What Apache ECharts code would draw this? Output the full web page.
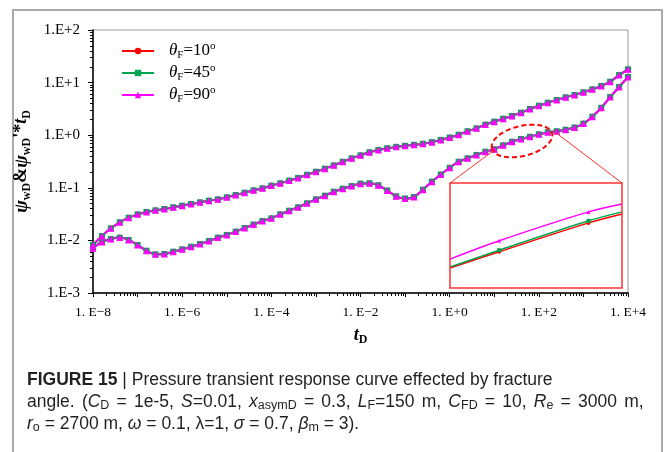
<!DOCTYPE html>
<html>
<head>
<meta charset="utf-8">
<script src="https://cdn.jsdelivr.net/npm/echarts@6/dist/echarts.min.js"></script>
<style>
  html, body { margin: 0; padding: 0; background: #fff; }
  #chart { width: 666px; height: 452px; }
</style>
</head>
<body>
<div id="chart"></div>
<script>
// log10(tD) of every marker
const tExp = [-8, -7.8, -7.6, -7.4, -7.2, -7, -6.8, -6.6, -6.4, -6.2,
  -6, -5.8, -5.6, -5.4, -5.2, -5, -4.8, -4.6, -4.4, -4.2,
  -4, -3.8, -3.6, -3.4, -3.2, -3, -2.8, -2.6, -2.4, -2.2,
  -2, -1.8, -1.6, -1.4, -1.2, -1, -0.8, -0.6, -0.4, -0.2,
  0, 0.2, 0.4, 0.6, 0.8, 1, 1.2, 1.4, 1.6, 1.8,
  2, 2.2, 2.4, 2.6, 2.8, 3, 3.2, 3.4, 3.6, 3.8, 4];

// psi_wD (upper curve)
const pressure = [0.00818, 0.0121, 0.0170, 0.0221, 0.0270, 0.0313, 0.0347, 0.0373, 0.0395, 0.0426,
  0.0457, 0.0492, 0.0530, 0.0569, 0.0604, 0.0659, 0.0730, 0.0807, 0.0895, 0.0977,
  0.110, 0.122, 0.137, 0.154, 0.177, 0.202, 0.231, 0.267, 0.313, 0.363,
  0.415, 0.473, 0.525, 0.565, 0.600, 0.628, 0.655, 0.687, 0.738, 0.813,
  0.906, 1.02, 1.19, 1.35, 1.59, 1.81, 2.06, 2.32, 2.68, 3.15,
  3.64, 4.15, 4.67, 5.26, 5.81, 6.55, 7.46, 8.61, 10.4, 13.9, 17.9];

// psi_wD' * tD (lower curve)
const derivative = [0.00708, 0.00933, 0.0106, 0.0113, 0.0102, 0.00818, 0.00637, 0.00543, 0.00551, 0.00610,
  0.00676, 0.00759, 0.00855, 0.00975, 0.0113, 0.0127, 0.0147, 0.0172, 0.0200, 0.0234,
  0.0263, 0.0313, 0.0367, 0.0426, 0.0507, 0.0604, 0.0708, 0.0843, 0.0962, 0.108,
  0.120, 0.122, 0.112, 0.0889, 0.0689, 0.0627, 0.0668, 0.0920, 0.131, 0.179,
  0.240, 0.313, 0.364, 0.421, 0.485, 0.540, 0.643, 0.752, 0.847, 0.935,
  1.04, 1.14, 1.19, 1.27, 1.40, 1.66, 2.25, 3.32, 5.32, 8.24, 12.8];

const thetaF = ['10', '45', '90'];
const colors = ['#ff0000', '#00a550', '#ff00ff'];
const symbols = ['circle', 'rect', 'triangle'];
const symbolSizes = [5, 6, 7];

const xLabelExp = [-8, -6, -4, -2, 0, 2, 4];

// zoomed window (inset)
const insetExp = [1.29, 1.4, 1.6, 1.675];
const insetMarked = [false, true, true, false];
const insetValues = [
  [0.638, 0.669, 0.724, 0.741],
  [0.640, 0.672, 0.728, 0.745],
  [0.655, 0.690, 0.745, 0.760]
];

const myChart = echarts.init(document.getElementById('chart'));

const range = (a, b) => { const r = []; for (let i = a; i <= b; i++) r.push(i); return r; };
const minorTicks = (a, b) => {
  const r = [];
  for (let d = a; d < b; d++) for (let k = 2; k <= 9; k++) r.push(d + Math.log10(k));
  return r;
};
const expLabel = (v, sp, minus) => {
  const n = Math.round(v);
  return '1.' + sp + 'E' + (n < 0 ? minus : '+') + Math.abs(n);
};

const serif = 'Liberation Serif';
const sans = 'Liberation Sans';

const series = [];
thetaF.forEach((name, k) => {
  [pressure, derivative].forEach(vals => {
    series.push({
      name: name,
      type: 'line',
      xAxisIndex: 0,
      yAxisIndex: 0,
      data: tExp.map((t, i) => [t, Math.log10(vals[i])]),
      symbol: symbols[k],
      symbolSize: symbolSizes[k],
      smooth: 0.3,
      lineStyle: { color: colors[k], width: 2 },
      itemStyle: { color: colors[k] },
      animation: false
    });
  });
});
thetaF.forEach((name, k) => {
  series.push({
    name: 'inset' + name,
    type: 'line',
    xAxisIndex: 2,
    yAxisIndex: 2,
    data: insetExp.map((t, i) => ({
      value: [t, insetValues[k][i]],
      symbol: insetMarked[i] ? symbols[k] : 'none'
    })),
    symbolSize: 4,
    smooth: 0.3,
    lineStyle: { color: colors[k], width: 1.5 },
    itemStyle: { color: colors[k] },
    animation: false
  });
});

const legendRich = {
  th: { fontFamily: serif, fontStyle: 'italic', fontSize: 17, lineHeight: 20, verticalAlign: 'middle', padding: [0, 0, 0, 10] },
  sub: { fontFamily: serif, fontSize: 11, lineHeight: 11, verticalAlign: 'bottom' },
  eq: { fontFamily: serif, fontSize: 17, lineHeight: 20, verticalAlign: 'middle' },
  sup: { fontFamily: serif, fontSize: 11, lineHeight: 11, verticalAlign: 'top' }
};

const capRich = {
  b: { fontFamily: sans, fontSize: 17.5, fontWeight: 'bold', fill: '#231f20', lineHeight: 20, verticalAlign: 'middle' },
  i: { fontFamily: sans, fontSize: 17.5, fontStyle: 'italic', fill: '#231f20', lineHeight: 20, verticalAlign: 'middle' },
  s: { fontFamily: sans, fontSize: 12.5, fill: '#231f20', lineHeight: 12, verticalAlign: 'bottom' },
  // wider space, the second caption line is justified
  w: { fontFamily: sans, fontSize: 17.5, width: 7.2, lineHeight: 20, verticalAlign: 'middle' }
};
const capText = (y, text) => ({
  type: 'text', x: 27, y: y, z: 10,
  style: {
    text: text, fontFamily: sans, fontSize: 17.5, fill: '#231f20',
    verticalAlign: 'middle', lineHeight: 20, rich: capRich
  }
});
const line2 = 'angle. ({i|C}{s|D} = 1e-5, {i|S}=0.01, {i|x}{s|asymD} = 0.3, {i|L}{s|F}=150 m, {i|C}{s|FD} = 10, {i|R}{s|e} = 3000 m,'
  .split(' ').join('{w| }');

const option = {
  backgroundColor: '#fff',
  animation: false,
  legend: {
    data: thetaF,
    orient: 'vertical',
    left: 121,
    top: 41,
    padding: 0,
    itemWidth: 32,
    itemHeight: 8,
    itemGap: 2,
    formatter: name => '{th|θ}{sub|F}{eq|=' + name + '}{sup|o}',
    textStyle: { color: '#000', rich: legendRich }
  },
  grid: [
    { left: 93, right: 38, top: 30, bottom: 159, show: true, borderColor: '#999', borderWidth: 1 },
    { left: 450, top: 183, width: 172, height: 105, show: true, borderColor: '#ff3030', borderWidth: 1.5, z: 5 }
  ],
  xAxis: [
    {
      type: 'value', gridIndex: 0, min: -8, max: 4, position: 'bottom',
      axisLine: { onZero: false, lineStyle: { color: '#000', width: 1.5 } },
      axisTick: { customValues: range(-8, 4), length: 4, lineStyle: { color: '#000' } },
      axisLabel: {
        customValues: xLabelExp, margin: 12, color: '#000',
        fontFamily: serif, fontSize: 13.5,
        formatter: v => expLabel(v, ' ', '−')
      },
      splitLine: { show: false },
      name: '{t|t}{s|D}',
      nameLocation: 'middle',
      nameGap: 31,
      nameTextStyle: {
        rich: {
          t: { fontFamily: serif, fontStyle: 'italic', fontWeight: 'bold', fontSize: 18, lineHeight: 22, verticalAlign: 'middle' },
          s: { fontFamily: serif, fontWeight: 'bold', fontSize: 12, lineHeight: 12, verticalAlign: 'bottom' }
        }
      }
    },
    {
      type: 'value', gridIndex: 0, min: -8, max: 4, position: 'bottom',
      axisLine: { show: false, onZero: false },
      axisTick: { customValues: minorTicks(-8, 4), length: 3, lineStyle: { color: '#000' } },
      axisLabel: { show: false },
      splitLine: { show: false }
    },
    { type: 'value', gridIndex: 1, min: insetExp[0], max: insetExp[3], show: false }
  ],
  yAxis: [
    {
      type: 'value', gridIndex: 0, min: -3, max: 2, interval: 1, position: 'left',
      axisLine: { show: true, onZero: false, lineStyle: { color: '#000', width: 1.5 } },
      axisTick: { show: true, length: 5, lineStyle: { color: '#000' } },
      axisLabel: {
        margin: 13, color: '#000', fontFamily: serif, fontSize: 15,
        formatter: v => expLabel(v, '', '-')
      },
      splitLine: { show: false },
      name: '{p|ψ}{s|wD}{n|&}{p|ψ}{s|wD}{n|\'*}{t|t}{s|D}',
      nameLocation: 'middle',
      nameRotate: 90,
      nameGap: 45,
      nameTextStyle: {
        rich: {
          p: { fontFamily: serif, fontStyle: 'italic', fontWeight: 'bold', fontSize: 19, lineHeight: 22, verticalAlign: 'middle' },
          n: { fontFamily: serif, fontWeight: 'bold', fontSize: 18, lineHeight: 22, verticalAlign: 'middle' },
          t: { fontFamily: serif, fontStyle: 'italic', fontWeight: 'bold', fontSize: 18, lineHeight: 22, verticalAlign: 'middle' },
          s: { fontFamily: serif, fontWeight: 'bold', fontSize: 12, lineHeight: 12, verticalAlign: 'bottom' }
        }
      }
    },
    {
      type: 'value', gridIndex: 0, min: -3, max: 2, position: 'left',
      axisLine: { show: false, onZero: false },
      axisTick: { show: true, customValues: minorTicks(-3, 2), length: 3, lineStyle: { color: '#000' } },
      axisLabel: { show: false },
      splitLine: { show: false }
    },
    { type: 'value', gridIndex: 1, min: 0.6, max: 0.8, show: false }
  ],
  graphic: [
    { type: 'rect', shape: { x: 13, y: 10, width: 649, height: 470 }, style: { fill: 'none', stroke: '#aaa', lineWidth: 2 }, z: 0 },
    { type: 'ellipse', shape: { cx: 0, cy: 0, rx: 31, ry: 15 }, x: 522, y: 141, rotation: 0.24,
      style: { fill: 'none', stroke: '#ff0000', lineWidth: 2, lineDash: [5, 3] }, z: 10 },
    { type: 'line', shape: { x1: 450, y1: 183, x2: 493, y2: 151 }, style: { stroke: '#ff3030', lineWidth: 1 }, z: 10 },
    { type: 'line', shape: { x1: 555, y1: 132, x2: 622, y2: 183 }, style: { stroke: '#ff3030', lineWidth: 1 }, z: 10 },
    capText(380, '{b|FIGURE 15} | Pressure transient response curve effected by fracture'),
    capText(402, line2),
    capText(424, '{i|r}{s|o} = 2700 m, {i|ω} = 0.1, λ=1, {i|σ} = 0.7, {i|β}{s|m} = 3).')
  ],
  series: series
};

myChart.setOption(option);
</script>
</body>
</html>
